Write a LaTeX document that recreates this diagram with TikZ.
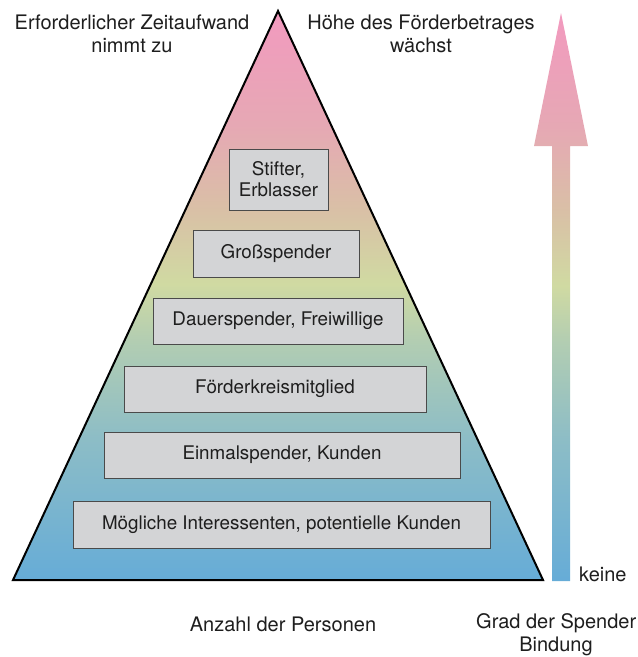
\documentclass[tikz,border=0pt]{standalone}
\usepackage{fontspec}
\setmainfont{TeX Gyre Heros}
\definecolor{gblue}{HTML}{66ACD7}
\definecolor{gteal}{HTML}{8DBDC6}
\definecolor{gsage}{HTML}{B2CDB2}
\definecolor{glime}{HTML}{D0DAA2}
\definecolor{gtan}{HTML}{D9C0A6}
\definecolor{grose}{HTML}{E6A8B4}
\definecolor{gpink}{HTML}{F29ABF}
\definecolor{boxfill}{HTML}{D3D4D6}
\definecolor{boxline}{HTML}{4A4A4A}
\definecolor{ink}{HTML}{1E1E1E}
% vertical colour ramp: the path's bounding box is mapped onto 25bp..75bp
\pgfdeclareverticalshading{spendramp}{100bp}{%
  color(0bp)=(gblue); color(25bp)=(gblue); color(37.5bp)=(gteal);
  color(46bp)=(gsage); color(51bp)=(glime); color(57.5bp)=(gtan);
  color(65bp)=(grose); color(75bp)=(gpink); color(100bp)=(gpink)}
\begin{document}
\begin{tikzpicture}[x=1pt,y=-1pt,
  label/.style={font=\fontsize{20}{23.5}\selectfont, text=ink, align=center, inner sep=0pt},
  level/.style={draw=boxline, line width=0.8pt, fill=boxfill, text=ink,
    font=\fontsize{18.8}{21}\selectfont, align=center, inner sep=0pt, anchor=center}]
\useasboundingbox (0,0) rectangle (638,657);
\clip (0,0) rectangle (638,657);

% pyramid
\shade[shading=spendramp] (278,11) -- (543,580) -- (13,580) -- cycle;
\draw[line width=2pt, line join=miter] (278,11) -- (543,580) -- (13,580) -- cycle;

% levels of the pyramid
\node[level, minimum width=99pt,  minimum height=61pt] (stifter) at (278.5,179.5) {Stifter,\\Erblasser};
\node[level, minimum width=166pt, minimum height=47pt] (gross)   at (276,253.5) {Großspender};
\node[level, minimum width=250pt, minimum height=46pt] (dauer)   at (278,321) {Dauerspender, Freiwillige};
\node[level, minimum width=302pt, minimum height=46pt] (kreis)   at (275,389) {Förderkreismitglied};
\node[level, minimum width=356pt, minimum height=46pt] (einmal)  at (282,455) {Einmalspender, Kunden};
\node[level, minimum width=417pt, minimum height=47pt] (moegl)   at (281.5,524.5) {Mögliche Interessenten, potentielle Kunden};

% arrow of growing commitment
\shade[shading=spendramp] (561,13) -- (588,146) -- (570,146) -- (570,581)
  -- (552,581) -- (552,146) -- (534,146) -- cycle;

% captions
\node[label] (zeit) at (132,34) {Erforderlicher Zeitaufwand\\nimmt zu};
\node[label] (hoehe) at (421,34) {Höhe des Förderbetrages\\wächst};
\node[label, anchor=west] (keine) at (579,574) {keine};
\node[label] (anzahl) at (283,624) {Anzahl der Personen};
\node[label, anchor=north west] (grad) at (476,613) {Grad der Spender};
\node[label] (bindung) at (556,646) {Bindung};
\end{tikzpicture}
\end{document}
